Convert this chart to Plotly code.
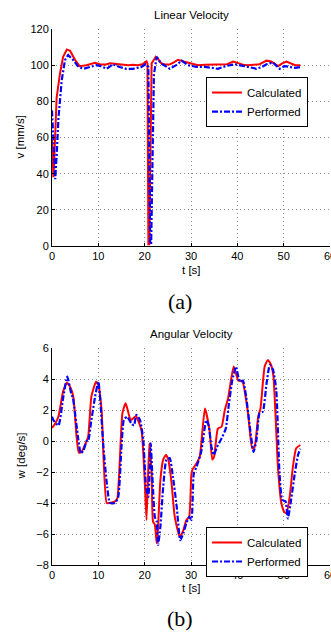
import plotly.graph_objects as go

# ---------------- data ----------------
# Linear velocity (mm/s)
t_lin_calc = [0, 0.3, 0.6, 1.0, 1.7, 2.4, 3.2, 3.9, 5.0, 6.0, 7.4, 8.5, 9.3, 10.3, 11.5, 12.5,
              13.5, 14.5, 15.5, 16.5, 17.5, 18.5, 19.5, 19.9, 20.4, 20.6, 20.8, 21.0, 21.2, 21.5,
              22.0, 22.4, 22.9, 23.6, 24.6, 25.5, 26.3, 27.2, 28.4, 29.4, 30.5, 31.5, 33.0, 34.8,
              36.5, 37.8, 39.1, 40.2, 41.2, 42.3, 43.5, 44.8, 46.3, 47.3, 48.8, 49.7, 50.6, 51.6,
              52.5, 53.6]
v_calc = [60, 38, 55, 82, 95, 104.6, 108.7, 108, 102.8, 99.4, 100, 100.8, 101.3, 100.5, 100.3, 101,
          100.8, 100.2, 100, 100, 100.2, 100, 100.5, 101.5, 102.2, 101, 1, 1, 60, 101,
          103, 104.6, 103.5, 101, 100.3, 100.5, 101.5, 103, 102, 101.3, 100.4, 100, 100.2, 100.4,
          100.3, 100.5, 102, 101, 100.3, 100, 100.2, 100.5, 102.5, 102, 99.5, 101, 102, 100.8,
          100, 100]

t_lin_perf = [0, 0.4, 0.7, 1.0, 1.4, 2.1, 2.8, 3.5, 4.6, 5.7, 6.8, 8.2, 9.6, 10.5, 11.8, 13.2,
              14.6, 16.0, 17.5, 19.3, 20.2, 20.8, 21.0, 21.2, 21.4, 21.7, 22.0, 22.6, 23.5, 24.5,
              25.4, 26.8, 28.0, 29.3, 31.2, 33.0, 35.8, 37.5, 39.5, 41.5, 44.1, 45.3, 46.3, 47.7,
              49.1, 50.2, 51.5, 52.5, 53.6]
v_perf = [75, 50, 37, 50, 71, 91.7, 102.8, 105.6, 102.8, 99, 98, 99, 100, 99.5, 98, 100.5,
          99, 98, 98, 99, 100.5, 99, 50, 1, 1, 60, 95, 104.6, 101, 99.5,
          98, 100, 102.5, 100, 99, 99, 98, 99.5, 100.5, 99.5, 98, 99, 100.5, 101.5,
          98, 99.5, 99, 98.5, 99]

# Angular velocity (deg/s)
t_ang_calc = [0, 0.65, 1.4, 2.4, 3.2, 3.9, 4.6, 5.3, 5.8, 6.4, 7.1, 7.8, 8.5, 9.5, 10.0, 10.7,
              11.8, 12.4, 13.6, 14.1, 15.2, 15.9, 17.0, 18.1, 19.3, 20.0, 20.4, 21.0, 21.5, 21.8,
              22.2, 22.6, 22.9, 23.4, 24.0, 24.6, 25.1, 25.8, 26.5, 27.6, 28.3, 29.0, 29.6, 30.1,
              30.4, 31.2, 31.9, 33.0, 34.0, 34.6, 35.0, 35.8, 36.6, 37.3, 38.0, 39.2, 39.9, 40.2,
              41.1, 42.3, 43.2, 43.7, 44.5, 45.0, 45.9, 46.6, 47.3, 47.8, 48.8, 49.5, 50.1, 50.6,
              51.3, 52.0, 52.7, 53.6]
w_calc = [0.84, 1.1, 1.6, 3.2, 3.76, 3.5, 2.86, 0.28, -0.75, -0.7, -0.26, 0.28, 2.86, 3.83, 3.6, 2.0,
          -4.0, -4.0, -3.9, -3.7, 1.8, 2.43, 1.35, 1.6, 0.7, -2.5, -5.1, -0.15, -2.1, -5.2,
          -5.4, -6.6, -5.5, -2.5, -1.2, -0.9, -1.2, -2.7, -4.9, -6.2, -5.8, -5.1, -4.9, -2.1,
          -1.8, -1.44, -1.0, 2.1, 0.7, -1.2, -1.0, 0.8, 0.92, 2.0, 2.75, 4.8, 4.15, 3.9,
          3.83, 1.8, -0.47, -0.4, 1.57, 2.1, 4.8, 5.23, 4.9, 4.15, -1.87, -4.0, -4.56, -4.67,
          -3.6, -1.66, -0.47, -0.26]

t_ang_perf = [0, 0.3, 1.4, 2.4, 3.3, 4.2, 4.5, 5.7, 6.2, 6.8, 7.5, 7.8, 8.5, 9.3, 10.0, 10.3,
              11.1, 11.9, 12.5, 13.6, 14.3, 15.0, 15.5, 16.2, 17.2, 17.7, 18.2, 19.0, 19.7, 20.3,
              20.8, 21.3, 21.7, 22.2, 22.6, 22.9, 23.4, 24.0, 24.7, 25.4, 26.1, 26.9, 27.7, 28.4,
              29.0, 29.6, 30.1, 30.6, 31.2, 32.2, 33.3, 33.8, 34.4, 34.9, 35.6, 36.6, 37.5, 38.2,
              38.9, 39.7, 40.5, 41.2, 41.9, 42.7, 43.5, 44.1, 44.8, 45.5, 46.3, 47.0, 47.7, 48.4,
              49.1, 49.7, 50.4, 50.9, 51.6, 52.4, 53.1, 53.6]
w_perf = [1.57, 1.35, 1.0, 2.77, 4.15, 3.0, 2.8, 0.06, -0.8, -0.6, 0, 0, 1.35, 2.86, 3.83, 3.1,
          -0.37, -2.95, -4.0, -4.0, -3.6, -0.37, 1.35, 1.57, 1.1, 1.0, 1.68, 1.35, 0.06, -2.95,
          -3.6, -0.15, -2.5, -4.9, -5.2, -6.7, -5.5, -2.95, -1.2, -1.1, -2.3, -4.2, -6.4, -5.9,
          -5.3, -4.9, -5.1, -2.1, -1.66, -0.7, 1.35, 1.0, -0.37, -0.9, -0.4, 0.17, 0.8, 2.43,
          3.9, 4.8, 3.83, 3.9, 2.86, 0.92, -0.7, 0.0, 1.8, 1.9, 3.7, 4.9, 4.6, 3.3,
          -2.1, -3.8, -3.9, -5.0, -3.8, -2.1, -0.9, -0.5]

x_ticks = [0, 10, 20, 30, 40, 50, 60]
x_tick_text = ["0", "10", "20", "30", "40", "50", ""]
x_last_label = "60"
v_ticks = [0, 20, 40, 60, 80, 100, 120]
w_ticks = [-8, -6, -4, -2, 0, 2, 4, 6]
w_tick_text = ["\u22128", "\u22126", "\u22124", "\u22122", "0", "2", "4", "6"]

# ---------------- figure ----------------
FONT = "Liberation Sans, Arial, sans-serif"
SERIF = "Liberation Serif, Times New Roman, serif"
RED = "#ff0000"
BLUE = "#0000ff"
DASHDOT = "6px,2px,2px,2px"

fig = go.Figure()
fig.add_trace(go.Scatter(x=t_lin_calc, y=v_calc, mode="lines", name="Calculated",
                         line=dict(color=RED, width=2), xaxis="x", yaxis="y", legend="legend"))
fig.add_trace(go.Scatter(x=t_lin_perf, y=v_perf, mode="lines", name="Performed",
                         line=dict(color=BLUE, width=2.2, dash=DASHDOT),
                         xaxis="x", yaxis="y", legend="legend"))
fig.add_trace(go.Scatter(x=t_ang_calc, y=w_calc, mode="lines", name="Calculated",
                         line=dict(color=RED, width=2, shape="spline", smoothing=0.5),
                         xaxis="x2", yaxis="y2", legend="legend2"))
fig.add_trace(go.Scatter(x=t_ang_perf, y=w_perf, mode="lines", name="Performed",
                         line=dict(color=BLUE, width=2.2, dash=DASHDOT,
                                   shape="spline", smoothing=0.5),
                         xaxis="x2", yaxis="y2", legend="legend2"))

axis_common = dict(showline=True, linecolor="black", linewidth=1, mirror=False,
                   ticks="inside", ticklen=3, tickcolor="black",
                   showgrid=True, gridcolor="#8c8c8c", griddash="1px,3px", gridwidth=1,
                   zeroline=False, tickfont=dict(family=FONT, size=11, color="black"))

top_dom = [(565 - 246) / 536, 1.0]
bot_dom = [0.0, (565 - 348) / 536]

legend_common = dict(xanchor="right", yanchor="top",
                     bordercolor="black", borderwidth=1, bgcolor="white",
                     font=dict(family=FONT, size=11.5), tracegroupgap=0,
                     itemwidth=30)

fig.update_layout(
    width=331, height=632,
    margin=dict(l=52, r=1, t=29, b=67),
    paper_bgcolor="white", plot_bgcolor="white",
    font=dict(family=FONT, size=11, color="black"),
    xaxis=dict(domain=[0, 1], range=[0, 60], tickvals=x_ticks, ticktext=x_tick_text,
               anchor="y", **axis_common),
    yaxis=dict(domain=top_dom, range=[0, 120], tickvals=v_ticks, anchor="x", **axis_common),
    xaxis2=dict(domain=[0, 1], range=[0, 60], tickvals=x_ticks, ticktext=x_tick_text,
                anchor="y2", **axis_common),
    yaxis2=dict(domain=bot_dom, range=[-8, 6], tickvals=w_ticks, ticktext=w_tick_text,
                anchor="x2", **axis_common),
    legend=dict(x=0.921, y=0.9104, **legend_common),
    legend2=dict(x=0.921, y=0.0709, **legend_common),
    showlegend=True,
)

ann = []
def A(text, x, y, size=11.5, angle=0, family=FONT, xref="paper"):
    ann.append(dict(text=text, x=x, y=y, xref=xref, yref="paper", showarrow=False,
                    xanchor="center", yanchor="middle", textangle=angle,
                    font=dict(family=family, size=size, color="black")))

A("Linear Velocity", 0.5, (565 - 15) / 536)
A("Angular Velocity", 0.5, (565 - 334) / 536)
A("t [s]", 0.5, (565 - 270) / 536)
A("t [s]", 0.5, (565 - 588) / 536)
A("v [mm/s]", (19 - 52) / 278, (565 - 137.5) / 536, angle=-90)
A("w [deg/s]", (20 - 52) / 278, (565 - 456.5) / 536, angle=-90)
A("(a)", (180 - 52) / 278, (565 - 302) / 536, size=22, family=SERIF)
A("(b)", (180 - 52) / 278, (565 - 618) / 536, size=22, family=SERIF)
# last x tick label, partly cut by the right edge as in the original
A(x_last_label, x_ticks[-1], (565 - 256) / 536, size=11, xref="x")
A(x_last_label, x_ticks[-1], (565 - 575) / 536, size=11, xref="x2")
fig.update_layout(annotations=ann)

fig.write_html("out.html", config={"displayModeBar": False},
               post_script="document.body.style.margin='0';document.body.style.overflow='hidden';")
